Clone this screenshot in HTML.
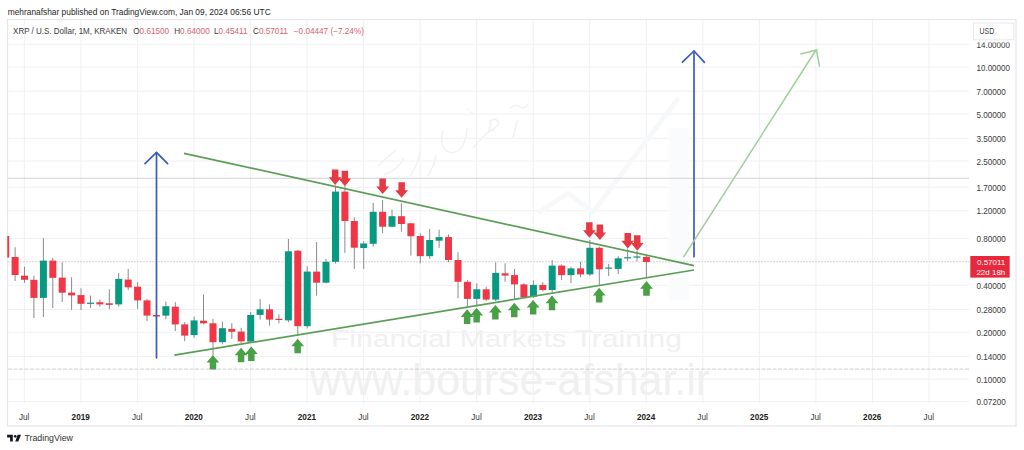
<!DOCTYPE html>
<html><head><meta charset="utf-8"><style>
html,body{margin:0;padding:0;width:1024px;height:450px;overflow:hidden;background:#fff}
svg text{font-family:"Liberation Sans",sans-serif}
</style></head><body>
<svg width="1024" height="450" viewBox="0 0 1024 450" style="position:absolute;left:0;top:0">
<rect width="1024" height="450" fill="#ffffff"/>
<text x="7.7" y="14.9" font-size="8.6" fill="#262626" textLength="263" lengthAdjust="spacingAndGlyphs">mehranafshar published on TradingView.com, Jan 09, 2024 06:56 UTC</text>
<rect x="7.5" y="19.5" width="1008.5" height="406.5" fill="none" stroke="#e6e7ea" stroke-width="1.2"/>
<clipPath id="pane"><rect x="7.3" y="20" width="961.7" height="383.5"/></clipPath>
<g stroke="#eff0f3" stroke-width="1">
<line x1="24.36" y1="20" x2="24.36" y2="403.5"/>
<line x1="80.9" y1="20" x2="80.9" y2="403.5"/>
<line x1="137.44" y1="20" x2="137.44" y2="403.5"/>
<line x1="193.98" y1="20" x2="193.98" y2="403.5"/>
<line x1="250.51" y1="20" x2="250.51" y2="403.5"/>
<line x1="307.05" y1="20" x2="307.05" y2="403.5"/>
<line x1="363.59" y1="20" x2="363.59" y2="403.5"/>
<line x1="420.13" y1="20" x2="420.13" y2="403.5"/>
<line x1="476.67" y1="20" x2="476.67" y2="403.5"/>
<line x1="533.2" y1="20" x2="533.2" y2="403.5"/>
<line x1="589.74" y1="20" x2="589.74" y2="403.5"/>
<line x1="646.28" y1="20" x2="646.28" y2="403.5"/>
<line x1="702.82" y1="20" x2="702.82" y2="403.5"/>
<line x1="759.36" y1="20" x2="759.36" y2="403.5"/>
<line x1="815.89" y1="20" x2="815.89" y2="403.5"/>
<line x1="872.43" y1="20" x2="872.43" y2="403.5"/>
<line x1="928.97" y1="20" x2="928.97" y2="403.5"/>
<line x1="8" y1="44.3" x2="969" y2="44.3"/>
<line x1="8" y1="67.1" x2="969" y2="67.1"/>
<line x1="8" y1="91.27" x2="969" y2="91.27"/>
<line x1="8" y1="114.08" x2="969" y2="114.08"/>
<line x1="8" y1="138.25" x2="969" y2="138.25"/>
<line x1="8" y1="161.05" x2="969" y2="161.05"/>
<line x1="8" y1="187.19" x2="969" y2="187.19"/>
<line x1="8" y1="210.79" x2="969" y2="210.79"/>
<line x1="8" y1="238.27" x2="969" y2="238.27"/>
<line x1="8" y1="285.25" x2="969" y2="285.25"/>
<line x1="8" y1="309.42" x2="969" y2="309.42"/>
<line x1="8" y1="332.22" x2="969" y2="332.22"/>
<line x1="8" y1="356.4" x2="969" y2="356.4"/>
<line x1="8" y1="379.2" x2="969" y2="379.2"/>
<line x1="8" y1="401.46" x2="969" y2="401.46"/>
</g>
<g fill="#f0f0f0" font-family="Liberation Sans">
<text x="331" y="346.8" font-size="24" textLength="351" lengthAdjust="spacingAndGlyphs">Financial Markets Training</text>
<text x="310" y="394.8" font-size="44" textLength="400" lengthAdjust="spacingAndGlyphs">www.bourse-afshar.ir</text>
</g>
<g fill="none" stroke="#f7f8fa" stroke-linecap="round" stroke-linejoin="round">
<polyline points="540,212 568,193 593,212 677,100" stroke-width="5"/>
<rect x="669" y="128" width="20" height="172" fill="#fafbfc" stroke="none"/>
<path d="M510,108 Q516,103 520,107 Q524,110 528,104 M517,121 Q515,130 513,137 M474,147 Q480,140 486,134 Q492,128 490,121 Q496,116 499,124 Q494,130 488,132 M443,131 Q438,150 452,153 Q466,150 467,128 M467,109 l1.5,1 M471,112 l1.5,1 M378,166 Q386,158 396,150 M384,175 Q398,170 404,158 M410,176 Q418,165 420,152 M428,176 Q434,166 436,156" stroke="#f0f1f3" stroke-width="1.4"/>
</g>
<g clip-path="url(#pane)">
<line x1="8" y1="178.3" x2="969" y2="178.3" stroke="#d2d2d2" stroke-width="1.1"/>
<line x1="8" y1="369.1" x2="969" y2="369.1" stroke="#cfcfcf" stroke-width="1" stroke-dasharray="4 1.5"/>
<line x1="8" y1="261.8" x2="969" y2="261.8" stroke="#d6d2d4" stroke-width="1" stroke-dasharray="2 1"/>
<line x1="5.7" y1="229" x2="5.7" y2="260" stroke="#8a8a8c" stroke-width="1"/>
<rect x="2.2" y="236" width="7" height="21.5" fill="#F23645"/>
<line x1="15.1" y1="247.2" x2="15.1" y2="281" stroke="#8a8a8c" stroke-width="1"/>
<rect x="11.6" y="257" width="7" height="18.0" fill="#F23645"/>
<line x1="24.5" y1="266.8" x2="24.5" y2="282.8" stroke="#8a8a8c" stroke-width="1"/>
<rect x="21.0" y="275.7" width="7" height="4.1" fill="#F23645"/>
<line x1="33.9" y1="275.7" x2="33.9" y2="318" stroke="#8a8a8c" stroke-width="1"/>
<rect x="30.4" y="279.8" width="7" height="18.1" fill="#F23645"/>
<line x1="43.4" y1="238.3" x2="43.4" y2="317" stroke="#8a8a8c" stroke-width="1"/>
<rect x="39.9" y="260.6" width="7" height="37.3" fill="#089981"/>
<line x1="52.8" y1="257.9" x2="52.8" y2="308" stroke="#8a8a8c" stroke-width="1"/>
<rect x="49.3" y="260.6" width="7" height="17.2" fill="#F23645"/>
<line x1="62.2" y1="262.2" x2="62.2" y2="302" stroke="#8a8a8c" stroke-width="1"/>
<rect x="58.7" y="277.6" width="7" height="15.1" fill="#F23645"/>
<line x1="71.6" y1="277.3" x2="71.6" y2="310" stroke="#8a8a8c" stroke-width="1"/>
<rect x="68.1" y="292.6" width="7" height="2.8" fill="#F23645"/>
<line x1="81.0" y1="288.4" x2="81.0" y2="310" stroke="#8a8a8c" stroke-width="1"/>
<rect x="77.5" y="295.1" width="7" height="8.7" fill="#F23645"/>
<line x1="90.5" y1="295.6" x2="90.5" y2="307.8" stroke="#8a8a8c" stroke-width="1"/>
<rect x="87.0" y="302.7" width="7" height="1.2" fill="#089981"/>
<line x1="99.9" y1="299.6" x2="99.9" y2="306.7" stroke="#8a8a8c" stroke-width="1"/>
<rect x="96.4" y="302.2" width="7" height="2.2" fill="#F23645"/>
<line x1="109.3" y1="289.3" x2="109.3" y2="309.3" stroke="#8a8a8c" stroke-width="1"/>
<rect x="105.8" y="303.3" width="7" height="1.6" fill="#F23645"/>
<line x1="118.7" y1="272.9" x2="118.7" y2="306.7" stroke="#8a8a8c" stroke-width="1"/>
<rect x="115.2" y="278.9" width="7" height="25.5" fill="#089981"/>
<line x1="128.2" y1="268.9" x2="128.2" y2="290" stroke="#8a8a8c" stroke-width="1"/>
<rect x="124.7" y="279.6" width="7" height="7.7" fill="#F23645"/>
<line x1="137.6" y1="282.2" x2="137.6" y2="308.9" stroke="#8a8a8c" stroke-width="1"/>
<rect x="134.1" y="286.7" width="7" height="13.7" fill="#F23645"/>
<line x1="147.0" y1="298.9" x2="147.0" y2="321.1" stroke="#8a8a8c" stroke-width="1"/>
<rect x="143.5" y="300.4" width="7" height="15.2" fill="#F23645"/>
<line x1="156.4" y1="312" x2="156.4" y2="320" stroke="#8a8a8c" stroke-width="1"/>
<rect x="152.9" y="315" width="7" height="1.5" fill="#F23645"/>
<line x1="165.9" y1="301.6" x2="165.9" y2="319.3" stroke="#8a8a8c" stroke-width="1"/>
<rect x="162.4" y="306.2" width="7" height="9.4" fill="#089981"/>
<line x1="175.3" y1="302.2" x2="175.3" y2="331.1" stroke="#8a8a8c" stroke-width="1"/>
<rect x="171.8" y="306.7" width="7" height="17.7" fill="#F23645"/>
<line x1="184.7" y1="322.2" x2="184.7" y2="341.1" stroke="#8a8a8c" stroke-width="1"/>
<rect x="181.2" y="324.4" width="7" height="11.2" fill="#F23645"/>
<line x1="194.1" y1="316.7" x2="194.1" y2="337.8" stroke="#8a8a8c" stroke-width="1"/>
<rect x="190.6" y="320.4" width="7" height="14.7" fill="#089981"/>
<line x1="203.5" y1="294.4" x2="203.5" y2="324.4" stroke="#8a8a8c" stroke-width="1"/>
<rect x="200.0" y="320.7" width="7" height="2.6" fill="#F23645"/>
<line x1="213.0" y1="318.9" x2="213.0" y2="355.6" stroke="#8a8a8c" stroke-width="1"/>
<rect x="209.5" y="323.3" width="7" height="18.9" fill="#F23645"/>
<line x1="222.4" y1="321.6" x2="222.4" y2="344.4" stroke="#8a8a8c" stroke-width="1"/>
<rect x="218.9" y="328.2" width="7" height="14.0" fill="#089981"/>
<line x1="231.8" y1="323.3" x2="231.8" y2="339" stroke="#8a8a8c" stroke-width="1"/>
<rect x="228.3" y="328.9" width="7" height="2.9" fill="#F23645"/>
<line x1="241.2" y1="327.8" x2="241.2" y2="343.3" stroke="#8a8a8c" stroke-width="1"/>
<rect x="237.7" y="331.6" width="7" height="9.8" fill="#F23645"/>
<line x1="250.7" y1="312" x2="250.7" y2="342" stroke="#8a8a8c" stroke-width="1"/>
<rect x="247.2" y="314.9" width="7" height="26.7" fill="#089981"/>
<line x1="260.1" y1="298.9" x2="260.1" y2="319.6" stroke="#8a8a8c" stroke-width="1"/>
<rect x="256.6" y="309.3" width="7" height="5.6" fill="#089981"/>
<line x1="269.5" y1="304.4" x2="269.5" y2="325.6" stroke="#8a8a8c" stroke-width="1"/>
<rect x="266.0" y="309.3" width="7" height="10.3" fill="#F23645"/>
<line x1="278.9" y1="314.4" x2="278.9" y2="323.3" stroke="#8a8a8c" stroke-width="1"/>
<rect x="275.4" y="318.8" width="7" height="1.2" fill="#F23645"/>
<line x1="288.4" y1="238.9" x2="288.4" y2="322.2" stroke="#8a8a8c" stroke-width="1"/>
<rect x="284.9" y="251.3" width="7" height="69.1" fill="#089981"/>
<line x1="297.8" y1="250" x2="297.8" y2="335.5" stroke="#8a8a8c" stroke-width="1"/>
<rect x="294.3" y="250.7" width="7" height="75.5" fill="#F23645"/>
<line x1="307.2" y1="266.2" x2="307.2" y2="328.4" stroke="#8a8a8c" stroke-width="1"/>
<rect x="303.7" y="271.6" width="7" height="54.6" fill="#089981"/>
<line x1="316.6" y1="242" x2="316.6" y2="295.6" stroke="#8a8a8c" stroke-width="1"/>
<rect x="313.1" y="271.6" width="7" height="11.1" fill="#F23645"/>
<line x1="326.0" y1="258.9" x2="326.0" y2="283.3" stroke="#8a8a8c" stroke-width="1"/>
<rect x="322.5" y="261.8" width="7" height="20.9" fill="#089981"/>
<line x1="335.5" y1="185.6" x2="335.5" y2="263.6" stroke="#8a8a8c" stroke-width="1"/>
<rect x="332.0" y="191.6" width="7" height="70.2" fill="#089981"/>
<line x1="344.9" y1="186.2" x2="344.9" y2="252.9" stroke="#8a8a8c" stroke-width="1"/>
<rect x="341.4" y="191.6" width="7" height="29.4" fill="#F23645"/>
<line x1="354.3" y1="217.3" x2="354.3" y2="268.9" stroke="#8a8a8c" stroke-width="1"/>
<rect x="350.8" y="221" width="7" height="26.7" fill="#F23645"/>
<line x1="363.7" y1="241.2" x2="363.7" y2="268.9" stroke="#8a8a8c" stroke-width="1"/>
<rect x="360.2" y="243.5" width="7" height="4.5" fill="#089981"/>
<line x1="373.2" y1="202.9" x2="373.2" y2="246.7" stroke="#8a8a8c" stroke-width="1"/>
<rect x="369.7" y="211.8" width="7" height="32.0" fill="#089981"/>
<line x1="382.6" y1="200" x2="382.6" y2="233.3" stroke="#8a8a8c" stroke-width="1"/>
<rect x="379.1" y="211.8" width="7" height="14.9" fill="#F23645"/>
<line x1="392.0" y1="209.6" x2="392.0" y2="227.3" stroke="#8a8a8c" stroke-width="1"/>
<rect x="388.5" y="216.2" width="7" height="10.5" fill="#089981"/>
<line x1="401.4" y1="203.3" x2="401.4" y2="231.8" stroke="#8a8a8c" stroke-width="1"/>
<rect x="397.9" y="216.2" width="7" height="7.8" fill="#F23645"/>
<line x1="410.9" y1="222.9" x2="410.9" y2="255.6" stroke="#8a8a8c" stroke-width="1"/>
<rect x="407.4" y="223.3" width="7" height="12.9" fill="#F23645"/>
<line x1="420.3" y1="233.3" x2="420.3" y2="263.3" stroke="#8a8a8c" stroke-width="1"/>
<rect x="416.8" y="236" width="7" height="20.2" fill="#F23645"/>
<line x1="429.7" y1="228.9" x2="429.7" y2="258.9" stroke="#8a8a8c" stroke-width="1"/>
<rect x="426.2" y="240" width="7" height="16.2" fill="#089981"/>
<line x1="439.1" y1="229.6" x2="439.1" y2="247.8" stroke="#8a8a8c" stroke-width="1"/>
<rect x="435.6" y="237.1" width="7" height="3.6" fill="#089981"/>
<line x1="448.5" y1="234.4" x2="448.5" y2="262.2" stroke="#8a8a8c" stroke-width="1"/>
<rect x="445.0" y="237.1" width="7" height="22.9" fill="#F23645"/>
<line x1="458.0" y1="252.2" x2="458.0" y2="298.2" stroke="#8a8a8c" stroke-width="1"/>
<rect x="454.5" y="260" width="7" height="21.8" fill="#F23645"/>
<line x1="467.4" y1="280" x2="467.4" y2="306.7" stroke="#8a8a8c" stroke-width="1"/>
<rect x="463.9" y="281.8" width="7" height="17.1" fill="#F23645"/>
<line x1="476.8" y1="283.3" x2="476.8" y2="306.7" stroke="#8a8a8c" stroke-width="1"/>
<rect x="473.3" y="289.3" width="7" height="9.6" fill="#089981"/>
<line x1="486.2" y1="286.7" x2="486.2" y2="301.1" stroke="#8a8a8c" stroke-width="1"/>
<rect x="482.7" y="289.3" width="7" height="10.3" fill="#F23645"/>
<line x1="495.7" y1="262.2" x2="495.7" y2="301.1" stroke="#8a8a8c" stroke-width="1"/>
<rect x="492.2" y="272.9" width="7" height="26.7" fill="#089981"/>
<line x1="505.1" y1="263.3" x2="505.1" y2="281.8" stroke="#8a8a8c" stroke-width="1"/>
<rect x="501.6" y="273.3" width="7" height="2.3" fill="#F23645"/>
<line x1="514.5" y1="268.9" x2="514.5" y2="298.9" stroke="#8a8a8c" stroke-width="1"/>
<rect x="511.0" y="275.1" width="7" height="9.3" fill="#F23645"/>
<line x1="523.9" y1="283.3" x2="523.9" y2="298.2" stroke="#8a8a8c" stroke-width="1"/>
<rect x="520.4" y="284.4" width="7" height="12.9" fill="#F23645"/>
<line x1="533.4" y1="280.4" x2="533.4" y2="297.8" stroke="#8a8a8c" stroke-width="1"/>
<rect x="529.9" y="284.9" width="7" height="11.8" fill="#089981"/>
<line x1="542.8" y1="282.2" x2="542.8" y2="291.6" stroke="#8a8a8c" stroke-width="1"/>
<rect x="539.3" y="284.9" width="7" height="5.1" fill="#F23645"/>
<line x1="552.2" y1="260" x2="552.2" y2="292.2" stroke="#8a8a8c" stroke-width="1"/>
<rect x="548.7" y="265.6" width="7" height="24.4" fill="#089981"/>
<line x1="561.6" y1="264.4" x2="561.6" y2="280" stroke="#8a8a8c" stroke-width="1"/>
<rect x="558.1" y="265.6" width="7" height="9.5" fill="#F23645"/>
<line x1="571.0" y1="266.7" x2="571.0" y2="283.3" stroke="#8a8a8c" stroke-width="1"/>
<rect x="567.5" y="268.4" width="7" height="6.7" fill="#089981"/>
<line x1="580.5" y1="261.8" x2="580.5" y2="277.3" stroke="#8a8a8c" stroke-width="1"/>
<rect x="577.0" y="268.4" width="7" height="6.0" fill="#F23645"/>
<line x1="589.9" y1="240" x2="589.9" y2="276" stroke="#8a8a8c" stroke-width="1"/>
<rect x="586.4" y="247.8" width="7" height="26.6" fill="#089981"/>
<line x1="599.3" y1="246.7" x2="599.3" y2="284.9" stroke="#8a8a8c" stroke-width="1"/>
<rect x="595.8" y="247.8" width="7" height="21.5" fill="#F23645"/>
<line x1="608.7" y1="263.9" x2="608.7" y2="276" stroke="#8a8a8c" stroke-width="1"/>
<rect x="605.2" y="267.5" width="7" height="1.2" fill="#089981"/>
<line x1="618.2" y1="256.1" x2="618.2" y2="274" stroke="#8a8a8c" stroke-width="1"/>
<rect x="614.7" y="258.3" width="7" height="10.6" fill="#089981"/>
<line x1="627.6" y1="248.6" x2="627.6" y2="261.1" stroke="#8a8a8c" stroke-width="1"/>
<rect x="624.1" y="257.2" width="7" height="1.2" fill="#089981"/>
<line x1="637.0" y1="250.7" x2="637.0" y2="261.5" stroke="#8a8a8c" stroke-width="1"/>
<rect x="633.5" y="256.4" width="7" height="1.2" fill="#089981"/>
<line x1="646.4" y1="255.1" x2="646.4" y2="277.1" stroke="#8a8a8c" stroke-width="1"/>
<rect x="642.9" y="256.9" width="7" height="5.1" fill="#F23645"/>
<line x1="184" y1="153.3" x2="694" y2="265.6" stroke="#5b9f57" stroke-width="1.7"/>
<line x1="174.4" y1="355.1" x2="694" y2="270" stroke="#5b9f57" stroke-width="1.7"/>
<g stroke="#3a5abd" stroke-width="1.7" fill="none" stroke-linecap="round" stroke-linejoin="round">
<line x1="156.5" y1="357.8" x2="156.5" y2="152.6"/><polyline points="145,163.6 156.5,152.4 167.6,163.6"/>
<line x1="694" y1="256.7" x2="694" y2="51.2"/><polyline points="682.4,62.2 694,51 704.4,62.4"/>
</g>
<g stroke="#9fcf9b" stroke-width="1.5" fill="none" stroke-linecap="round">
<line x1="683.8" y1="256.7" x2="816" y2="50"/><polyline points="801,54 816.5,50 819.4,66"/>
</g>
<polygon points="212.9,354.9 219.2,362.5 216.2,362.5 216.2,369.5 209.7,369.5 209.7,362.5 206.6,362.5" fill="#4aa046"/>
<polygon points="241.1,347.7 247.4,355.3 244.3,355.3 244.3,362.3 237.8,362.3 237.8,355.3 234.8,355.3" fill="#4aa046"/>
<polygon points="251.3,346.4 257.7,354.0 254.6,354.0 254.6,361.0 248.1,361.0 248.1,354.0 245.0,354.0" fill="#4aa046"/>
<polygon points="297.7,338.7 304.1,346.3 300.9,346.3 300.9,353.3 294.4,353.3 294.4,346.3 291.3,346.3" fill="#4aa046"/>
<polygon points="467.1,309.3 473.5,316.9 470.4,316.9 470.4,323.9 463.9,323.9 463.9,316.9 460.8,316.9" fill="#4aa046"/>
<polygon points="476.6,307.8 483.0,315.4 479.9,315.4 479.9,322.4 473.4,322.4 473.4,315.4 470.2,315.4" fill="#4aa046"/>
<polygon points="495.4,304.9 501.8,312.5 498.6,312.5 498.6,319.5 492.1,319.5 492.1,312.5 489.0,312.5" fill="#4aa046"/>
<polygon points="514.3,302.7 520.6,310.3 517.5,310.3 517.5,317.3 511.0,317.3 511.0,310.3 507.9,310.3" fill="#4aa046"/>
<polygon points="533.1,300.0 539.5,307.6 536.4,307.6 536.4,314.6 529.9,314.6 529.9,307.6 526.8,307.6" fill="#4aa046"/>
<polygon points="552.0,295.6 558.4,303.2 555.2,303.2 555.2,310.2 548.8,310.2 548.8,303.2 545.6,303.2" fill="#4aa046"/>
<polygon points="599.1,287.8 605.5,295.4 602.4,295.4 602.4,302.4 595.9,302.4 595.9,295.4 592.8,295.4" fill="#4aa046"/>
<polygon points="646.5,281.1 652.9,288.7 649.8,288.7 649.8,295.7 643.2,295.7 643.2,288.7 640.1,288.7" fill="#4aa046"/>
<polygon points="335.1,184.9 341.5,177.3 338.4,177.3 338.4,169.4 331.9,169.4 331.9,177.3 328.8,177.3" fill="#e53a43"/>
<polygon points="344.9,186.2 351.2,178.6 348.1,178.6 348.1,170.7 341.6,170.7 341.6,178.6 338.5,178.6" fill="#e53a43"/>
<polygon points="382.7,194.0 389.1,186.4 385.9,186.4 385.9,178.5 379.4,178.5 379.4,186.4 376.3,186.4" fill="#e53a43"/>
<polygon points="401.6,197.8 408.0,190.2 404.9,190.2 404.9,182.3 398.4,182.3 398.4,190.2 395.2,190.2" fill="#e53a43"/>
<polygon points="589.4,237.8 595.8,230.2 592.6,230.2 592.6,222.3 586.1,222.3 586.1,230.2 583.0,230.2" fill="#e53a43"/>
<polygon points="599.9,240.0 606.2,232.4 603.1,232.4 603.1,224.5 596.6,224.5 596.6,232.4 593.5,232.4" fill="#e53a43"/>
<polygon points="627.8,248.4 634.1,240.8 631.0,240.8 631.0,232.9 624.5,232.9 624.5,240.8 621.4,240.8" fill="#e53a43"/>
<polygon points="637.3,250.7 643.6,243.1 640.5,243.1 640.5,235.2 634.0,235.2 634.0,243.1 630.9,243.1" fill="#e53a43"/>
</g>
<g font-size="8.2" fill="#3a3a3a">
<text x="13.1" y="33.7" textLength="114" lengthAdjust="spacingAndGlyphs">XRP / U.S. Dollar, 1M, KRAKEN</text>
<text x="133.2" y="33.7">O<tspan fill="#d9626e">0.61500</tspan></text>
<text x="174.2" y="33.7">H<tspan fill="#d9626e">0.64000</tspan></text>
<text x="214" y="33.7">L<tspan fill="#d9626e">0.45411</tspan></text>
<text x="253" y="33.7">C<tspan fill="#d9626e">0.57011</tspan></text>
<text x="293.8" y="33.7" fill="#d9626e">−0.04447 (−7.24%)</text>
</g>
<g font-size="9" fill="#3a3a3a">
<text x="976.5" y="47.7" textLength="33.4" lengthAdjust="spacingAndGlyphs">14.00000</text>
<text x="976.5" y="70.5" textLength="33.4" lengthAdjust="spacingAndGlyphs">10.00000</text>
<text x="976.5" y="94.7" textLength="29.4" lengthAdjust="spacingAndGlyphs">7.00000</text>
<text x="976.5" y="117.5" textLength="29.4" lengthAdjust="spacingAndGlyphs">5.00000</text>
<text x="976.5" y="141.6" textLength="29.4" lengthAdjust="spacingAndGlyphs">3.50000</text>
<text x="976.5" y="164.5" textLength="29.4" lengthAdjust="spacingAndGlyphs">2.50000</text>
<text x="976.5" y="190.6" textLength="29.4" lengthAdjust="spacingAndGlyphs">1.70000</text>
<text x="976.5" y="214.2" textLength="29.4" lengthAdjust="spacingAndGlyphs">1.20000</text>
<text x="976.5" y="241.7" textLength="29.4" lengthAdjust="spacingAndGlyphs">0.80000</text>
<text x="976.5" y="288.6" textLength="29.4" lengthAdjust="spacingAndGlyphs">0.40000</text>
<text x="976.5" y="312.8" textLength="29.4" lengthAdjust="spacingAndGlyphs">0.28000</text>
<text x="976.5" y="335.6" textLength="29.4" lengthAdjust="spacingAndGlyphs">0.20000</text>
<text x="976.5" y="359.8" textLength="29.4" lengthAdjust="spacingAndGlyphs">0.14000</text>
<text x="976.5" y="382.6" textLength="29.4" lengthAdjust="spacingAndGlyphs">0.10000</text>
<text x="976.5" y="404.9" textLength="29.4" lengthAdjust="spacingAndGlyphs">0.07200</text>
</g>
<rect x="972" y="21" width="43" height="21.5" fill="#ffffff"/>
<rect x="973.5" y="23" width="40.3" height="16.8" fill="#ffffff" stroke="#e6e8ec" stroke-width="1"/>
<text x="979.6" y="34" font-size="8.6" fill="#3a3a3a" textLength="14.6" lengthAdjust="spacingAndGlyphs">USD</text>
<rect x="970.3" y="256" width="39.4" height="21.6" fill="#e8283c"/>
<text x="1005.3" y="265" font-size="8" fill="#ffffff" text-anchor="end">0.57011</text>
<text x="1005.3" y="275" font-size="8" fill="#ffffff" text-anchor="end">22d 18h</text>
<g font-size="8.2" fill="#3a3a3a" text-anchor="middle">
<text x="24.2" y="419.5">Jul</text>
<text x="80.7" y="419.5" font-weight="bold" fill="#222">2019</text>
<text x="137.2" y="419.5">Jul</text>
<text x="193.8" y="419.5" font-weight="bold" fill="#222">2020</text>
<text x="250.3" y="419.5">Jul</text>
<text x="306.9" y="419.5" font-weight="bold" fill="#222">2021</text>
<text x="363.4" y="419.5">Jul</text>
<text x="419.9" y="419.5" font-weight="bold" fill="#222">2022</text>
<text x="476.5" y="419.5">Jul</text>
<text x="533.0" y="419.5" font-weight="bold" fill="#222">2023</text>
<text x="589.5" y="419.5">Jul</text>
<text x="646.1" y="419.5" font-weight="bold" fill="#222">2024</text>
<text x="702.6" y="419.5">Jul</text>
<text x="759.2" y="419.5" font-weight="bold" fill="#222">2025</text>
<text x="815.7" y="419.5">Jul</text>
<text x="872.2" y="419.5" font-weight="bold" fill="#222">2026</text>
<text x="928.8" y="419.5">Jul</text>
</g>
<g fill="#131722">
<path d="M7.1,434.8 H12.8 V441.5 H10.1 V437.5 H7.1 Z"/>
<circle cx="15.2" cy="436.3" r="1.35"/>
<path d="M17.6,434.8 H21 L18.3,441.5 H15.3 Z"/>
</g>
<text x="24.4" y="441.3" font-size="8.6" fill="#333" textLength="48.6" lengthAdjust="spacingAndGlyphs">TradingView</text>
</svg>
</body></html>
